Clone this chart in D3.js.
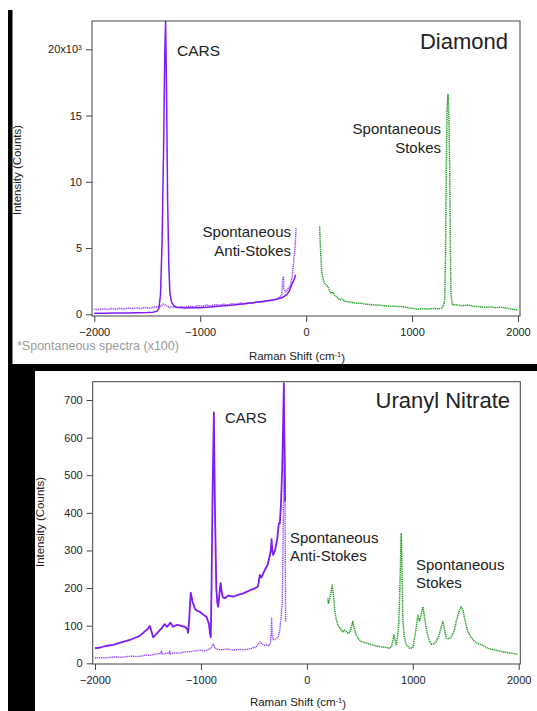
<!DOCTYPE html>
<html><head><meta charset="utf-8">
<script src="https://cdn.jsdelivr.net/npm/d3@7"></script>
<style>
body{margin:0;background:#fff}
svg{display:block}
text{font-family:"Liberation Sans",Arial,sans-serif;fill:#222}
</style>
</head><body>
<svg id="c" width="537" height="711"></svg>
<script>
// ---------------- DATA ----------------
const xTicks = [-2000, -1000, 0, 1000, 2000];
const diamondYTicks = [0, 5000, 10000, 15000, 20000];
const uranylYTicks = [0, 100, 200, 300, 400, 500, 600, 700];

// Diamond — CARS (solid)
const diamondCarsX = [-2000,-1900,-1800,-1700,-1600,-1500,-1450,-1410,-1390,-1375,-1360,-1345,-1335,-1327,-1318,-1308,-1296,-1286,-1270,-1250,-1223,-1150,-1050,-1000,-900,-800,-688,-600,-500,-436,-350,-279,-230,-184,-160,-137,-115,-99];
const diamondCarsY = [80,85,95,100,110,130,160,220,450,1500,5500,13000,19500,22100,17000,8660,3500,1590,900,650,530,480,490,500,560,620,700,780,880,950,1050,1130,1250,1460,1750,2220,2600,2980];

// Diamond — spontaneous anti-Stokes (x100, dotted)
const diamondAntiX = [-2000,-1960,-1920,-1880,-1840,-1800,-1760,-1720,-1680,-1640,-1600,-1560,-1520,-1480,-1440,-1400,-1370,-1345,-1320,-1290,-1260,-1220,-1180,-1140,-1100,-1060,-1020,-980,-940,-900,-860,-820,-780,-740,-700,-660,-620,-580,-540,-500,-460,-420,-380,-340,-300,-270,-248,-230,-222,-216,-210,-204,-190,-175,-160,-150,-140,-130,-122,-114,-106,-100,-96];
const diamondAntiY = [380,350,420,360,430,390,450,400,470,430,480,440,510,460,540,560,620,780,650,520,560,500,580,540,620,560,650,600,700,640,720,680,760,700,800,760,840,800,880,850,930,900,990,1020,1100,1180,1330,1500,2500,2850,1900,1840,1700,1900,2050,2200,2500,3000,3600,4300,4870,5700,6510];

// Diamond — spontaneous Stokes (x100, dotted)
const diamondStokesX = [127,132,137,143,149,160,174,190,206,222,237,253,269,290,316,340,365,395,430,470,520,570,620,678,730,790,840,898,950,1000,1056,1100,1150,1200,1250,1280,1298,1308,1316,1323,1331,1339,1347,1355,1362,1367,1376,1386,1420,1470,1528,1580,1630,1685,1740,1790,1843,1900,1950,2000];
const diamondStokesY = [6640,5600,4620,3800,3100,2650,2350,2200,2090,1750,1590,1650,1460,1300,1080,1150,980,950,900,840,830,760,720,700,640,610,600,580,520,450,380,420,400,440,420,460,700,1080,4500,11180,15500,16610,15000,11180,5000,1590,900,700,720,650,700,610,580,530,560,500,530,450,380,330];

// Uranyl nitrate — CARS (solid)
const uranylCarsX = [-2000,-1950,-1900,-1829,-1760,-1671,-1620,-1577,-1530,-1500,-1482,-1470,-1451,-1420,-1373,-1342,-1320,-1288,-1263,-1230,-1200,-1153,-1130,-1121,-1110,-1096,-1080,-1058,-1040,-1011,-980,-948,-925,-912,-907,-900,-890,-878,-868,-855,-845,-837,-825,-815,-806,-795,-774,-740,-696,-650,-600,-570,-530,-491,-460,-444,-430,-397,-370,-349,-340,-333,-326,-318,-300,-280,-265,-255,-245,-233,-225,-217,-212,-205];
const uranylCarsY = [40,42,46,49,55,62,68,73,85,92,99,88,69,78,93,104,97,108,97,102,101,97,92,81,120,188,165,146,140,137,130,124,105,75,69,200,450,667,420,200,160,150,185,213,195,176,173,180,177,182,186,190,195,199,205,235,228,248,262,288,300,330,300,288,301,330,372,372,420,514,620,745,600,430];

// Uranyl nitrate — spontaneous anti-Stokes (x100, dotted)
const uranylAntiX = [-2000,-1950,-1900,-1850,-1800,-1750,-1700,-1650,-1600,-1550,-1514,-1480,-1440,-1400,-1380,-1373,-1365,-1330,-1300,-1295,-1288,-1250,-1200,-1150,-1100,-1050,-1011,-960,-920,-902,-884,-870,-852,-800,-750,-700,-650,-600,-569,-530,-506,-480,-460,-444,-420,-400,-381,-360,-345,-336,-333,-328,-318,-300,-286,-270,-255,-244,-233,-228,-224,-219,-214,-210,-206,-203,-200];
const uranylAntiY = [14,15,14,16,17,16,18,19,18,20,22,21,24,26,25,33,24,27,26,33,25,28,27,30,31,33,35,33,38,42,51,42,37,36,38,35,37,36,37,39,42,43,50,57,52,48,49,47,52,80,120,75,62,64,66,72,88,120,160,250,337,450,540,560,420,250,110];

// Uranyl nitrate — spontaneous Stokes (x100, dotted)
const uranylStokesX = [198,203,210,224,239,250,261,275,293,315,340,355,371,385,403,420,434,450,466,490,513,560,600,639,700,750,781,800,812,822,833,844,858,869,880,891,899,907,920,938,970,1000,1017,1035,1048,1064,1080,1095,1110,1127,1150,1174,1200,1221,1240,1253,1270,1284,1300,1316,1340,1363,1390,1410,1430,1442,1457,1475,1489,1505,1520,1550,1583,1620,1660,1709,1760,1835,1900,1950,1993];
const uranylStokesY = [173,160,165,182,208,185,146,120,102,92,84,88,85,80,82,95,111,90,75,64,58,54,50,47,44,42,40,45,60,75,60,50,75,111,220,346,240,111,70,50,40,42,67,100,128,111,130,150,125,93,65,50,52,58,68,80,98,111,90,67,65,70,85,111,130,142,150,140,120,100,84,70,58,52,48,40,36,32,28,26,24];

// ---------------- STYLE ----------------
const CARS_COLOR = "#7d1cf7";
const ANTI_COLOR = "#9444ff";
const STOKES_COLOR = "#1f9e1f";
const DOT = "1.2,0.7";

const svg = d3.select("#c");
svg.append("rect").attr("width", 537).attr("height", 711).attr("fill", "#fff");
// black photo framing
svg.append("rect").attr("x", 8).attr("y", 10).attr("width", 4.5).attr("height", 358).attr("fill", "#000");
svg.append("rect").attr("x", 8).attr("y", 364).attr("width", 529).attr("height", 7).attr("fill", "#000");
svg.append("rect").attr("x", 8).attr("y", 364).attr("width", 27).attr("height", 347).attr("fill", "#000");

const zip = (xs, ys) => xs.map((x, i) => [x, ys[i]]);

function panel(cfg) {
  const g = svg.append("g");
  const x = d3.scaleLinear().domain([-2000, 2000]).range(cfg.xRange);
  const y = d3.scaleLinear().domain(cfg.yDomain).range(cfg.yRange);
  const f = cfg.frame; // [left, top, right, bottom]
  const id = "clip" + cfg.name;
  svg.append("clipPath").attr("id", id).append("rect")
    .attr("x", f[0]).attr("y", f[1]).attr("width", f[2] - f[0]).attr("height", f[3] - f[1]);

  const line = d3.line().x(d => x(d[0])).y(d => y(d[1]));
  const data = g.append("g").attr("clip-path", `url(#${id})`);
  cfg.series.forEach(s => {
    data.append("path").datum(zip(s.x, s.y))
      .attr("fill", "none").attr("stroke", s.color)
      .attr("stroke-width", s.width)
      .attr("stroke-dasharray", s.dash || null)
      .attr("stroke-linejoin", "round")
      .attr("d", line);
  });

  // frame
  g.append("rect").attr("x", f[0]).attr("y", f[1]).attr("width", f[2] - f[0]).attr("height", f[3] - f[1])
    .attr("fill", "none").attr("stroke", "#444").attr("stroke-width", 1);

  // axes
  const xa = g.append("g").attr("transform", `translate(0,${f[3]})`)
    .call(d3.axisBottom(x).tickValues(xTicks).tickSize(6).tickPadding(6).tickFormat(d3.format("d")));
  xa.select(".domain").remove();
  xa.selectAll("line").attr("stroke", "#444");
  xa.selectAll("text").attr("font-size", 11).attr("fill", "#222")
    .attr("font-family", '"Liberation Sans",Arial,sans-serif');

  const ya = g.append("g").attr("transform", `translate(${f[0]},0)`)
    .call(d3.axisLeft(y).tickValues(cfg.yTicks).tickSize(6).tickPadding(4).tickFormat(cfg.yFormat));
  ya.select(".domain").remove();
  ya.selectAll("line").attr("stroke", "#444");
  ya.selectAll("text").attr("font-size", 11).attr("fill", "#222")
    .attr("font-family", '"Liberation Sans",Arial,sans-serif');
  if (cfg.supTick) {
    ya.selectAll("text").filter(d => d === cfg.supTick).each(function () {
      const t = d3.select(this);
      t.text("20x10");
      t.append("tspan").attr("dy", "-0.5em").attr("font-size", 7).text("3");
    });
  }

  // titles
  g.append("text").attr("transform", `translate(${cfg.yTitle[0]},${cfg.yTitle[1]}) rotate(-90)`)
    .attr("text-anchor", "middle").attr("font-size", 11.5).text("Intensity (Counts)");
  const xt = g.append("text").attr("x", cfg.xTitle[0]).attr("y", cfg.xTitle[1])
    .attr("text-anchor", "middle").attr("font-size", 11.5);
  xt.append("tspan").text("Raman Shift (cm");
  xt.append("tspan").attr("dy", "-0.45em").attr("font-size", 7.5).text("-1");
  xt.append("tspan").attr("dy", "0.45em").text(")");

  cfg.labels.forEach(l => {
    const t = g.append("text").attr("x", l.x).attr("y", l.y)
      .attr("text-anchor", l.anchor).attr("font-size", l.size);
    l.lines.forEach((s, i) => t.append("tspan").attr("x", l.x).attr("dy", i ? l.lh : 0).text(s));
  });
  return g;
}

panel({
  name: "diamond",
  xRange: [94.3, 518],
  yDomain: [0, 20000], yRange: [314.3, 49.3],
  frame: [92, 21, 520, 316],
  yTicks: diamondYTicks,
  yFormat: d => d / 1000,
  supTick: 20000,
  yTitle: [21, 170], xTitle: [297, 360],
  series: [
    {x: diamondAntiX, y: diamondAntiY, color: ANTI_COLOR, width: 1.5, dash: DOT},
    {x: diamondStokesX, y: diamondStokesY, color: STOKES_COLOR, width: 1.5, dash: DOT},
    {x: diamondCarsX, y: diamondCarsY, color: CARS_COLOR, width: 1.5}
  ],
  labels: [
    {x: 177, y: 56, anchor: "start", size: 15.5, lines: ["CARS"]},
    {x: 508, y: 49, anchor: "end", size: 22, lines: ["Diamond"]},
    {x: 441, y: 134, anchor: "end", size: 15, lh: 18.5, lines: ["Spontaneous", "Stokes"]},
    {x: 291, y: 237, anchor: "end", size: 15, lh: 18.5, lines: ["Spontaneous", "Anti-Stokes"]}
  ]
});

svg.append("text").attr("x", 17).attr("y", 350).attr("font-size", 12.5)
  .style("fill", "#9a9a9a").text("*Spontaneous spectra (x100)");

panel({
  name: "uranyl",
  xRange: [95, 518.7],
  yDomain: [0, 700], yRange: [663.3, 400],
  frame: [92.7, 381.7, 520.3, 664],
  yTicks: uranylYTicks,
  yFormat: d3.format("d"),
  yTitle: [44, 522], xTitle: [298, 706],
  series: [
    {x: uranylAntiX, y: uranylAntiY, color: ANTI_COLOR, width: 1.4, dash: DOT},
    {x: uranylStokesX, y: uranylStokesY, color: STOKES_COLOR, width: 1.5, dash: DOT},
    {x: uranylCarsX, y: uranylCarsY, color: CARS_COLOR, width: 1.8}
  ],
  labels: [
    {x: 225, y: 423, anchor: "start", size: 15, lines: ["CARS"]},
    {x: 510, y: 408, anchor: "end", size: 22, lines: ["Uranyl Nitrate"]},
    {x: 290, y: 543, anchor: "start", size: 15, lh: 18, lines: ["Spontaneous", "Anti-Stokes"]},
    {x: 416, y: 570, anchor: "start", size: 15, lh: 17.5, lines: ["Spontaneous", "Stokes"]}
  ]
});
</script>
</body></html>
